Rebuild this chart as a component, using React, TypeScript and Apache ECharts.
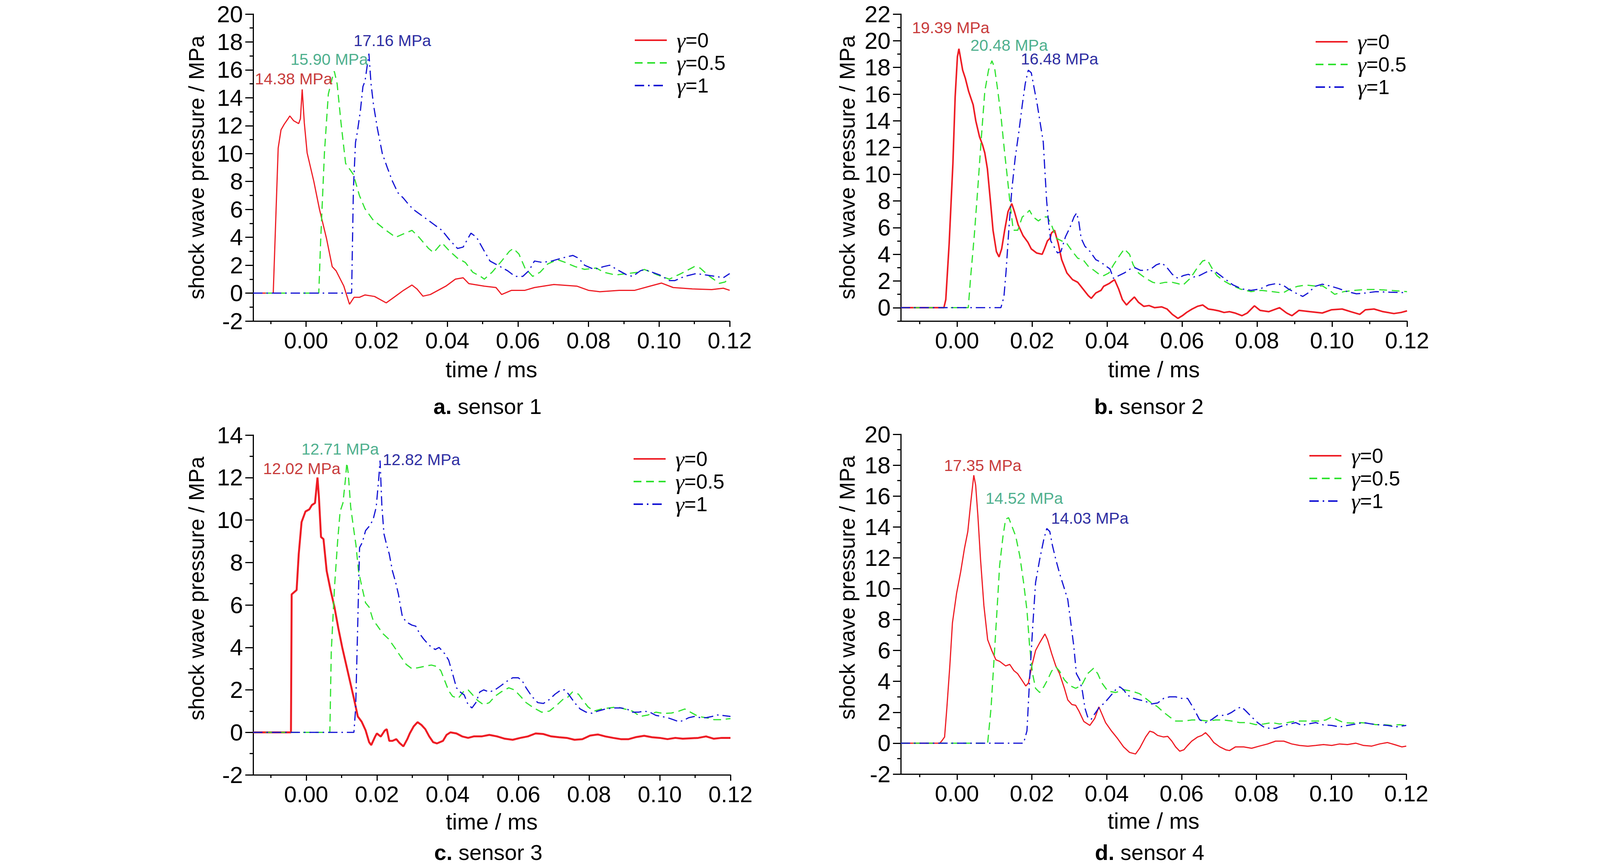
import React, { useEffect, useRef } from "react";
import * as echarts from "echarts";

// ---------- data ----------
const xLabelValues = [0, 0.02, 0.04, 0.06, 0.08, 0.1, 0.12];
const xMinorValues = [-0.01, 0.01, 0.03, 0.05, 0.07, 0.09, 0.11];
const xRange = [-0.015, 0.12];
const yRanges = [
  [-2, 20],
  [-1, 22],
  [-2, 14],
  [-2, 20],
];
const gammaNames = ["γ=0", "γ=0.5", "γ=1"];
const panelLetters = ["a.", "b.", "c.", "d."];
const panelNames = ["sensor 1", "sensor 2", "sensor 3", "sensor 4"];
const peakLabels = [
  [14.38, 15.9, 17.16],
  [19.39, 20.48, 16.48],
  [12.02, 12.71, 12.82],
  [17.35, 14.52, 14.03],
];

const s1g0 = [[-0.015,0],[-0.0093,0],[-0.0079,10.4],[-0.0071,11.7],[-0.0062,12.1],[-0.0051,12.5],[-0.0046,12.7],[-0.0035,12.35],[-0.0021,12.15],[-0.0016,12.5],[-0.0011,14.6],[-0.0005,12.2],[0.0003,10.05],[0.0022,8.0],[0.0038,6.0],[0.0058,3.9],[0.0074,1.9],[0.0085,1.6],[0.0107,0.5],[0.0123,-0.8],[0.0136,-0.3],[0.0151,-0.3],[0.0167,-0.13],[0.0194,-0.24],[0.0227,-0.7],[0.0249,-0.3],[0.0276,0.2],[0.03,0.58],[0.0314,0.3],[0.0331,-0.22],[0.0352,-0.1],[0.0374,0.2],[0.0396,0.5],[0.0423,1.0],[0.0445,1.1],[0.0461,0.68],[0.0505,0.5],[0.0538,0.4],[0.0554,-0.1],[0.0582,0.2],[0.062,0.2],[0.0647,0.4],[0.0702,0.62],[0.0767,0.5],[0.08,0.2],[0.0832,0.1],[0.0887,0.2],[0.0931,0.2],[0.0974,0.5],[0.1007,0.72],[0.104,0.4],[0.1094,0.3],[0.1149,0.25],[0.1182,0.35],[0.12,0.2]];
const s1g05 = [[-0.015,0],[0.0036,0],[0.0041,3.55],[0.0052,10.05],[0.0063,14.26],[0.0074,15.4],[0.008,15.9],[0.0088,15.0],[0.0099,12.2],[0.0112,9.3],[0.0134,8.5],[0.0151,7.0],[0.0167,6.04],[0.0189,5.27],[0.0221,4.6],[0.0254,4.0],[0.0281,4.3],[0.03,4.5],[0.032,4.0],[0.0347,3.2],[0.0361,2.9],[0.0385,3.6],[0.0407,3.0],[0.0429,2.5],[0.0451,2.2],[0.0472,1.5],[0.0494,1.2],[0.0505,1.0],[0.0527,1.5],[0.0554,2.3],[0.0576,3.0],[0.0587,3.2],[0.0603,2.8],[0.062,1.8],[0.0642,1.2],[0.0663,1.5],[0.0685,2.1],[0.0712,2.4],[0.0734,2.2],[0.0762,1.9],[0.0789,1.7],[0.0822,1.8],[0.0843,1.5],[0.0876,1.3],[0.0909,1.4],[0.0942,1.5],[0.0958,1.7],[0.0996,1.3],[0.1029,1.0],[0.1062,1.4],[0.11,1.9],[0.1116,1.8],[0.1143,1.2],[0.1171,0.7],[0.1187,0.8],[0.12,1.1]];
const s1g1 = [[-0.015,0],[0.0129,0],[0.0134,7.4],[0.014,10.8],[0.0145,11.5],[0.0154,13.1],[0.0161,14.8],[0.0167,15.2],[0.0178,17.16],[0.0184,15.0],[0.0191,13.5],[0.0202,11.8],[0.0216,10.0],[0.023,9.0],[0.0245,8.0],[0.026,7.2],[0.0276,6.8],[0.0292,6.3],[0.0309,5.9],[0.0331,5.5],[0.0358,5.0],[0.0385,4.5],[0.0407,3.8],[0.0429,3.2],[0.0445,3.3],[0.0467,4.3],[0.0483,4.0],[0.0505,3.0],[0.0521,2.3],[0.0543,2.0],[0.0571,1.6],[0.0592,1.2],[0.0614,1.2],[0.0631,1.6],[0.0647,2.3],[0.0669,2.2],[0.0696,2.3],[0.0723,2.5],[0.0756,2.7],[0.0772,2.5],[0.0789,2.0],[0.0816,1.7],[0.0843,1.9],[0.086,2.0],[0.0887,1.6],[0.0909,1.3],[0.0925,1.2],[0.0947,1.6],[0.0958,1.7],[0.098,1.5],[0.1002,1.3],[0.1029,0.9],[0.1045,0.9],[0.1072,1.2],[0.1105,1.4],[0.1132,1.3],[0.116,1.2],[0.1182,1.1],[0.12,1.4]];

const s2g0 = [[-0.015,0],[-0.0035,0],[-0.003,0.6],[-0.0021,4.8],[-0.0011,10.8],[-0.0005,15.8],[0.0001,18.8],[0.0005,19.4],[0.001,18.6],[0.0015,17.8],[0.0022,17.2],[0.0031,16.2],[0.0043,15.2],[0.005,14.0],[0.006,12.8],[0.0068,12.2],[0.0074,11.6],[0.0081,10.4],[0.0089,8.0],[0.0096,5.8],[0.0105,4.2],[0.0112,3.8],[0.0119,4.4],[0.0127,5.8],[0.0136,7.2],[0.0146,7.8],[0.0153,7.2],[0.0163,6.2],[0.0176,5.4],[0.0189,4.9],[0.0198,4.4],[0.0212,4.1],[0.0227,4.0],[0.0233,4.4],[0.0241,5.0],[0.0248,5.2],[0.0252,5.6],[0.026,5.8],[0.027,4.8],[0.0279,3.6],[0.0293,2.6],[0.0308,2.1],[0.0322,1.9],[0.0336,1.4],[0.035,0.9],[0.0358,0.7],[0.037,1.1],[0.0384,1.3],[0.0391,1.6],[0.0405,1.8],[0.042,2.1],[0.0431,1.4],[0.0441,0.6],[0.0452,0.2],[0.0462,0.5],[0.0473,0.8],[0.0484,0.4],[0.0498,0.1],[0.0512,0.16],[0.0527,0],[0.0546,0.06],[0.056,-0.1],[0.0574,-0.5],[0.0589,-0.8],[0.0601,-0.6],[0.0612,-0.36],[0.0627,-0.1],[0.0641,0.1],[0.0655,0.2],[0.067,-0.1],[0.0684,-0.16],[0.0698,-0.24],[0.0712,-0.36],[0.0727,-0.3],[0.0741,-0.4],[0.076,-0.6],[0.0774,-0.4],[0.0793,0.14],[0.0808,-0.2],[0.0831,-0.3],[0.086,0],[0.0879,-0.4],[0.0893,-0.6],[0.0912,-0.2],[0.0941,-0.3],[0.0974,-0.4],[0.0998,-0.16],[0.1027,-0.1],[0.105,-0.3],[0.1074,-0.5],[0.1089,-0.16],[0.1112,-0.1],[0.1136,-0.3],[0.1165,-0.44],[0.1184,-0.36],[0.12,-0.24]];
const s2g05 = [[-0.015,0],[0.003,0],[0.0036,2.2],[0.0046,5.4],[0.0055,8.8],[0.0065,12.8],[0.0074,16.2],[0.0084,17.8],[0.0093,18.5],[0.01,18.0],[0.0108,16.4],[0.0117,14.4],[0.0127,11.6],[0.0134,9.8],[0.0143,7.4],[0.015,5.8],[0.0162,5.8],[0.0174,6.8],[0.0184,7.0],[0.0193,7.3],[0.0203,6.8],[0.0217,6.5],[0.0231,6.8],[0.0241,6.8],[0.0252,6.2],[0.0265,5.2],[0.0279,5.0],[0.0293,4.8],[0.0308,4.2],[0.0322,3.7],[0.0336,3.6],[0.035,3.1],[0.0365,2.8],[0.0379,2.5],[0.0391,2.4],[0.0405,2.6],[0.0417,3.2],[0.0431,3.8],[0.0446,4.4],[0.046,4.0],[0.047,3.2],[0.0484,2.6],[0.0503,2.2],[0.0522,1.9],[0.0538,1.8],[0.0555,1.9],[0.0574,1.9],[0.0589,1.8],[0.0603,1.7],[0.0622,2.2],[0.0641,3.0],[0.0655,3.5],[0.0667,3.6],[0.0679,3.0],[0.0693,2.4],[0.0712,2.0],[0.0731,1.7],[0.0755,1.4],[0.0784,1.2],[0.0812,1.3],[0.0841,1.2],[0.0869,1.1],[0.0888,1.4],[0.0908,1.6],[0.0931,1.7],[0.096,1.6],[0.0974,1.64],[0.0993,1.3],[0.1007,1.0],[0.1031,1.2],[0.106,1.3],[0.1088,1.36],[0.1117,1.36],[0.1155,1.3],[0.1184,1.24],[0.12,1.2]];
const s2g1 = [[-0.015,0],[0.0117,0],[0.0125,0.8],[0.0131,2.8],[0.0138,5.8],[0.0146,8.8],[0.0155,11.2],[0.0165,13.2],[0.0174,15.2],[0.0182,16.8],[0.019,17.8],[0.0198,17.6],[0.0206,16.4],[0.0214,15.2],[0.0222,13.8],[0.023,12.4],[0.0234,10.4],[0.0239,8.0],[0.0244,6.4],[0.025,5.0],[0.0258,4.6],[0.0268,4.1],[0.0277,4.2],[0.0289,5.3],[0.0301,6.0],[0.0312,6.8],[0.0319,7.1],[0.0325,6.4],[0.0331,5.2],[0.0341,4.6],[0.0355,4.2],[0.037,3.6],[0.0384,3.4],[0.0398,3.1],[0.0408,2.9],[0.0417,2.2],[0.0431,2.4],[0.0446,2.6],[0.0462,2.9],[0.0474,3.0],[0.0489,2.8],[0.0503,2.8],[0.0517,2.9],[0.0531,3.2],[0.0546,3.36],[0.056,3.0],[0.0574,2.5],[0.0589,2.2],[0.0603,2.4],[0.0617,2.5],[0.0631,2.3],[0.0646,2.4],[0.066,2.6],[0.0674,2.8],[0.0689,2.7],[0.0703,2.4],[0.0717,2.1],[0.0736,1.7],[0.076,1.4],[0.0784,1.3],[0.0808,1.4],[0.0831,1.7],[0.085,1.8],[0.0869,1.7],[0.0884,1.4],[0.0903,1.1],[0.0922,0.84],[0.0936,1.1],[0.0955,1.6],[0.0974,1.76],[0.0993,1.64],[0.1017,1.44],[0.1041,1.2],[0.1065,1.04],[0.1089,1.1],[0.1117,1.2],[0.1155,1.16],[0.1184,1.14],[0.12,1.1]];

const s3g0 = [[-0.015,0],[-0.0043,0],[-0.0041,6.5],[-0.0027,6.7],[-0.0021,8.4],[-0.0013,9.9],[-0.0002,10.4],[0.0009,10.5],[0.0016,10.7],[0.0025,10.8],[0.0032,12.0],[0.0036,11.1],[0.0042,9.2],[0.0049,9.1],[0.0058,7.6],[0.0069,6.7],[0.008,5.9],[0.0091,4.9],[0.0102,4.0],[0.0113,3.2],[0.0124,2.4],[0.0135,1.6],[0.0146,0.75],[0.0157,0.5],[0.0168,0.1],[0.0178,-0.46],[0.0184,-0.6],[0.0195,-0.2],[0.02,-0.05],[0.0211,-0.2],[0.0222,0.08],[0.0228,0.15],[0.0235,-0.4],[0.0244,-0.4],[0.0255,-0.32],[0.0264,-0.5],[0.0275,-0.66],[0.0286,-0.32],[0.0293,-0.05],[0.0304,0.28],[0.0315,0.48],[0.0326,0.35],[0.0337,0.15],[0.0348,-0.19],[0.0359,-0.46],[0.037,-0.52],[0.0387,-0.4],[0.0397,-0.12],[0.0408,0],[0.0425,-0.05],[0.0441,-0.19],[0.0458,-0.26],[0.0474,-0.19],[0.0496,-0.19],[0.0518,-0.12],[0.054,-0.19],[0.0562,-0.3],[0.0584,-0.35],[0.0606,-0.26],[0.0627,-0.19],[0.0649,-0.05],[0.0671,-0.08],[0.0693,-0.19],[0.0715,-0.23],[0.0737,-0.26],[0.0759,-0.35],[0.0781,-0.32],[0.0803,-0.15],[0.0825,-0.1],[0.0846,-0.19],[0.0868,-0.26],[0.089,-0.32],[0.0912,-0.32],[0.0934,-0.22],[0.0956,-0.16],[0.0978,-0.23],[0.1,-0.26],[0.1022,-0.32],[0.1044,-0.26],[0.1065,-0.3],[0.1087,-0.28],[0.1109,-0.26],[0.1131,-0.19],[0.1153,-0.3],[0.1175,-0.26],[0.12,-0.26]];
const s3g05 = [[-0.015,0],[0.0067,0],[0.0071,3.8],[0.008,6.8],[0.0089,9.0],[0.0096,10.4],[0.0104,10.8],[0.0111,11.9],[0.0115,12.7],[0.0119,12.2],[0.0126,10.6],[0.0135,9.5],[0.0141,8.8],[0.0148,7.6],[0.0157,6.9],[0.0168,6.1],[0.0178,5.9],[0.0189,5.3],[0.02,5.05],[0.0217,4.65],[0.0233,4.4],[0.025,4.0],[0.0266,3.6],[0.0283,3.2],[0.0299,3.0],[0.0315,3.04],[0.0332,3.1],[0.0354,3.17],[0.037,3.1],[0.0381,2.9],[0.0392,2.43],[0.0403,1.96],[0.0414,1.7],[0.043,1.6],[0.0447,1.96],[0.0458,2.0],[0.0469,1.8],[0.0485,1.5],[0.0502,1.3],[0.0518,1.4],[0.0534,1.7],[0.0551,1.9],[0.0573,2.1],[0.0589,2.0],[0.0606,1.7],[0.0622,1.4],[0.0644,1.15],[0.0666,0.95],[0.0688,1.0],[0.071,1.3],[0.0726,1.55],[0.0737,1.6],[0.0753,1.9],[0.077,1.8],[0.0781,1.55],[0.0797,1.2],[0.0814,1.0],[0.0835,1.1],[0.0857,1.15],[0.0879,1.2],[0.0901,1.1],[0.0923,1.0],[0.0945,0.75],[0.0967,0.82],[0.0989,0.95],[0.1011,0.89],[0.1033,0.91],[0.1054,1.0],[0.1071,1.1],[0.1087,0.95],[0.1109,0.75],[0.1131,0.69],[0.1153,0.6],[0.1175,0.6],[0.12,0.65]];
const s3g1 = [[-0.015,0],[0.0135,0],[0.014,1.15],[0.0146,5.2],[0.0151,8.7],[0.0159,8.95],[0.0168,9.5],[0.0178,9.7],[0.0189,10.0],[0.0198,10.6],[0.0205,11.9],[0.0209,12.8],[0.0214,10.7],[0.022,9.35],[0.0228,8.8],[0.0235,8.4],[0.0244,7.6],[0.0253,7.07],[0.0261,6.5],[0.0266,6.0],[0.0272,5.46],[0.0283,5.2],[0.0299,5.05],[0.031,5.0],[0.0321,4.65],[0.0332,4.4],[0.0348,4.1],[0.0365,3.9],[0.0376,4.0],[0.0392,3.7],[0.0403,3.4],[0.0414,2.77],[0.0425,2.1],[0.0436,1.9],[0.0447,1.76],[0.0458,1.3],[0.0469,1.15],[0.048,1.4],[0.0491,1.9],[0.0502,2.0],[0.0518,1.9],[0.0534,2.0],[0.0551,2.2],[0.0567,2.4],[0.0584,2.57],[0.06,2.57],[0.0611,2.43],[0.0622,2.1],[0.0638,1.7],[0.0655,1.4],[0.0671,1.36],[0.0688,1.55],[0.0704,1.8],[0.0721,2.0],[0.0731,2.0],[0.0742,1.8],[0.0759,1.4],[0.0775,1.1],[0.0792,0.95],[0.0808,0.9],[0.0825,1.0],[0.0846,1.1],[0.0868,1.15],[0.089,1.15],[0.0907,1.1],[0.0923,0.95],[0.094,0.95],[0.0956,1.0],[0.0972,0.95],[0.0989,0.8],[0.1005,0.75],[0.1022,0.69],[0.1038,0.6],[0.1054,0.5],[0.1065,0.55],[0.1082,0.69],[0.1098,0.75],[0.1115,0.69],[0.1131,0.69],[0.1148,0.75],[0.1164,0.82],[0.118,0.79],[0.12,0.75]];

const s4g0 = [[-0.015,0],[-0.0046,0],[-0.0041,0.13],[-0.0033,0.4],[-0.0027,2.26],[-0.0019,5.0],[-0.0012,7.8],[-0.0001,9.7],[0.001,11.1],[0.002,12.6],[0.0029,13.7],[0.0037,15.6],[0.0045,17.35],[0.005,16.7],[0.0056,14.7],[0.0063,11.9],[0.0072,8.9],[0.0082,6.7],[0.0093,6.0],[0.0104,5.4],[0.0114,5.3],[0.013,5.0],[0.0141,5.1],[0.0152,4.7],[0.0162,4.5],[0.0173,4.1],[0.0184,3.7],[0.0191,3.9],[0.02,5.0],[0.021,6.0],[0.0221,6.5],[0.0235,7.07],[0.0242,6.7],[0.0253,5.8],[0.0264,5.0],[0.0274,4.5],[0.0287,3.55],[0.0296,2.8],[0.0307,2.5],[0.0317,2.45],[0.0326,2.07],[0.0339,1.4],[0.0355,1.15],[0.0368,1.6],[0.0379,2.35],[0.0387,1.9],[0.0397,1.33],[0.0413,0.78],[0.0429,0.3],[0.0445,-0.24],[0.0461,-0.6],[0.0477,-0.7],[0.0488,-0.33],[0.0504,0.4],[0.0515,0.78],[0.0525,0.7],[0.0536,0.5],[0.0552,0.4],[0.0563,0.44],[0.0574,0.13],[0.0584,-0.24],[0.0595,-0.52],[0.0606,-0.43],[0.0616,-0.15],[0.0627,0.13],[0.0643,0.4],[0.0654,0.5],[0.0664,0.68],[0.0675,0.4],[0.0686,0.04],[0.0702,-0.24],[0.0718,-0.43],[0.0728,-0.48],[0.0744,-0.24],[0.0766,-0.24],[0.0787,-0.33],[0.0808,-0.19],[0.083,-0.05],[0.0851,0.13],[0.0873,0.13],[0.0894,-0.05],[0.0915,-0.15],[0.0937,-0.2],[0.0958,-0.15],[0.0979,-0.09],[0.1001,-0.15],[0.1022,-0.05],[0.1043,-0.09],[0.1065,0],[0.1086,-0.15],[0.1108,-0.19],[0.1129,-0.05],[0.115,0.04],[0.1171,-0.11],[0.1188,-0.24],[0.12,-0.19]];
const s4g05 = [[-0.015,0],[0.0082,0],[0.0091,2.26],[0.0098,5.0],[0.0106,8.2],[0.0114,11.5],[0.0123,13.4],[0.013,14.5],[0.0138,14.6],[0.0146,14.1],[0.0157,13.4],[0.0168,12.1],[0.0178,10.4],[0.0187,8.6],[0.0194,6.3],[0.0202,4.5],[0.021,3.55],[0.0221,3.28],[0.0232,3.65],[0.0242,4.1],[0.0253,4.67],[0.0264,4.94],[0.0274,4.67],[0.0287,4.1],[0.0301,3.74],[0.0317,3.55],[0.0333,3.74],[0.0349,4.5],[0.0365,4.85],[0.0376,4.5],[0.0387,3.9],[0.0403,3.37],[0.0424,3.28],[0.0445,3.46],[0.0467,3.37],[0.0488,3.2],[0.0504,2.9],[0.052,2.6],[0.0536,2.35],[0.0552,2.0],[0.0568,1.7],[0.0584,1.43],[0.0606,1.43],[0.0627,1.5],[0.0648,1.5],[0.067,1.43],[0.0691,1.5],[0.0712,1.5],[0.0734,1.43],[0.0755,1.33],[0.0776,1.33],[0.0798,1.2],[0.0819,1.24],[0.0841,1.33],[0.0862,1.24],[0.0883,1.33],[0.0905,1.43],[0.0926,1.43],[0.0947,1.43],[0.0969,1.43],[0.0985,1.5],[0.1001,1.7],[0.1017,1.5],[0.1033,1.33],[0.1054,1.3],[0.1075,1.33],[0.1097,1.3],[0.1118,1.2],[0.114,1.2],[0.1161,1.15],[0.1182,1.2],[0.12,1.15]];
const s4g1 = [[-0.015,0],[0.0178,0],[0.0187,0.8],[0.0194,4.1],[0.0202,7.4],[0.021,10.4],[0.0221,11.9],[0.0232,13.2],[0.024,13.9],[0.0248,13.7],[0.0255,12.8],[0.0264,11.9],[0.0274,11.0],[0.0287,10.0],[0.0296,9.3],[0.0304,7.8],[0.0312,6.3],[0.0319,4.5],[0.0328,4.1],[0.0335,3.37],[0.0342,2.26],[0.0349,1.7],[0.0358,1.52],[0.0368,1.9],[0.0381,2.35],[0.0394,2.6],[0.0408,3.0],[0.0424,3.46],[0.0435,3.65],[0.0445,3.46],[0.0456,3.1],[0.0472,2.9],[0.0488,2.8],[0.0504,2.7],[0.052,2.54],[0.0536,2.6],[0.0552,2.9],[0.0568,3.0],[0.0584,3.0],[0.06,2.9],[0.0616,2.9],[0.0632,2.26],[0.0648,1.52],[0.0664,1.33],[0.068,1.52],[0.0696,1.8],[0.0718,1.8],[0.0734,2.0],[0.075,2.26],[0.076,2.35],[0.0771,2.1],[0.0787,1.7],[0.0803,1.33],[0.0819,1.05],[0.0835,0.96],[0.0851,0.96],[0.0873,1.15],[0.0889,1.24],[0.0905,1.33],[0.0921,1.15],[0.0937,1.24],[0.0958,1.33],[0.0979,1.18],[0.1001,1.15],[0.1022,1.05],[0.1043,1.15],[0.1065,1.24],[0.1086,1.33],[0.1108,1.24],[0.1129,1.18],[0.115,1.15],[0.1171,1.05],[0.1188,1.11],[0.12,1.15]];

const panelSeries = [
  [s1g0, s1g05, s1g1],
  [s2g0, s2g05, s2g1],
  [s3g0, s3g05, s3g1],
  [s4g0, s4g05, s4g1],
];

// ---------- layout / style ----------
const GRIDS = [
  { left: 648, top: 36, width: 1220, height: 786 },
  { left: 2306, top: 36, width: 1296, height: 786 },
  { left: 648, top: 1114, width: 1222, height: 870 },
  { left: 2306, top: 1112, width: 1294, height: 870 },
];
const LEGEND_POS = [
  { left: 1623, top: 74 },
  { left: 3366, top: 78 },
  { left: 1620, top: 1146 },
  { left: 3350, top: 1138 },
];
const LABEL_OFFSETS = [
  [[-22, -27], [-13, -30], [60, -33]],
  [[-21, -54], [44, -40], [80, -29]],
  [[-40, -23], [-17, -35], [106, -2]],
  [[23, -25], [40, -50], [110, -26]],
];
const TITLE_POS = [
  [1248, 1040],
  [2941, 1040],
  [1250, 2182],
  [2943, 2182],
];
const YNAME_GAP = [118, 110, 118, 110];
const XNAME_GAP = [94, 94, 90, 90];
const YNAME_PAD = [0, 0, 84, 84];
const RED_WIDTH = [3, 4, 5, 3];

const SANS = "'Liberation Sans', Arial, Helvetica, sans-serif";
const SERIF = "'Liberation Serif', 'Times New Roman', serif";

const LINE_COLORS = ["#ee1c24", "#2fe22f", "#1414d4"];
const LINE_TYPES: any[] = ["solid", [20, 12], [24, 10, 4, 10]];
const LABEL_COLORS = ["#c83c3c", "#4fb08e", "#2e2ea2"];

function peakOf(data: number[][]) {
  let best = data[0];
  for (const p of data) if (p[1] > best[1]) best = p;
  return best;
}

function buildOption() {
  const grid: any[] = [];
  const xAxis: any[] = [];
  const yAxis: any[] = [];
  const series: any[] = [];
  const legend: any[] = [];
  const title: any[] = [];

  for (let i = 0; i < 4; i++) {
    grid.push({ ...GRIDS[i], containLabel: false });
    const [ymin, ymax] = yRanges[i];
    const yMajor: number[] = [];
    const yMinor: number[] = [];
    for (let v = Math.ceil(ymin); v <= ymax; v++) {
      if (v % 2 === 0) yMajor.push(v);
      else yMinor.push(v);
    }
    xAxis.push({
      type: "value",
      gridIndex: i,
      min: xRange[0],
      max: xRange[1],
      name: "time / ms",
      nameLocation: "middle",
      nameGap: XNAME_GAP[i],
      nameTextStyle: { fontFamily: SANS, fontSize: 58, color: "#000" },
      axisLine: { show: true, onZero: false, lineStyle: { color: "#000", width: 3 } },
      axisTick: { show: true, customValues: xLabelValues, length: 15, lineStyle: { color: "#000", width: 3 } },
      axisLabel: {
        show: true,
        customValues: xLabelValues,
        formatter: (v: number) => v.toFixed(2),
        fontFamily: SANS,
        fontSize: 58,
        color: "#000",
        margin: 20,
      },
      splitLine: { show: false },
    });
    xAxis.push({
      type: "value",
      gridIndex: i,
      min: xRange[0],
      max: xRange[1],
      position: "bottom",
      axisLine: { show: false, onZero: false },
      axisTick: { show: true, customValues: xMinorValues, length: 8, lineStyle: { color: "#000", width: 3 } },
      axisLabel: { show: false },
      splitLine: { show: false },
    });
    yAxis.push({
      type: "value",
      gridIndex: i,
      min: ymin,
      max: ymax,
      name: "shock wave pressure / MPa",
      nameLocation: "middle",
      nameGap: YNAME_GAP[i],
      nameTextStyle: {
        fontFamily: SANS,
        fontSize: 55,
        color: "#000",
        padding: [0, 0, 0, YNAME_PAD[i]],
      },
      axisLine: { show: true, onZero: false, lineStyle: { color: "#000", width: 3 } },
      axisTick: { show: true, customValues: yMajor, length: 20, lineStyle: { color: "#000", width: 3 } },
      axisLabel: {
        show: true,
        customValues: yMajor,
        fontFamily: SANS,
        fontSize: 60,
        lineHeight: 46,
        color: "#000",
        margin: 26,
      },
      splitLine: { show: false },
    });
    yAxis.push({
      type: "value",
      gridIndex: i,
      min: ymin,
      max: ymax,
      position: "left",
      axisLine: { show: false, onZero: false },
      axisTick: { show: true, customValues: yMinor, length: 9, lineStyle: { color: "#000", width: 3 } },
      axisLabel: { show: false },
      splitLine: { show: false },
    });

    for (let k = 0; k < 3; k++) {
      const data = panelSeries[i][k];
      const pk = peakOf(data);
      series.push({
        type: "line",
        name: gammaNames[k],
        xAxisIndex: 2 * i,
        yAxisIndex: 2 * i,
        data,
        showSymbol: false,
        symbol: "none",
        lineStyle: {
          color: LINE_COLORS[k],
          width: k === 0 ? RED_WIDTH[i] : 3,
          type: LINE_TYPES[k],
        },
        itemStyle: { color: LINE_COLORS[k] },
        z: 2 + k,
        markPoint: {
          symbol: "circle",
          symbolSize: 1,
          silent: true,
          itemStyle: { color: "rgba(0,0,0,0)" },
          label: {
            show: true,
            position: "inside",
            offset: LABEL_OFFSETS[i][k],
            formatter: (p: any) => `${Number(p.value).toFixed(2)} MPa`,
            color: LABEL_COLORS[k],
            fontFamily: SANS,
            fontSize: 41,
            lineHeight: 33,
          },
          data: [{ coord: [pk[0], pk[1]], value: peakLabels[i][k] }],
        },
      });
    }

    legend.push({
      show: true,
      orient: "vertical",
      left: LEGEND_POS[i].left,
      top: LEGEND_POS[i].top,
      padding: 0,
      itemGap: 0,
      itemWidth: 82,
      itemHeight: 16,
      selectedMode: false,
      itemStyle: { opacity: 0 },
      lineStyle: { width: 4 },
      data: gammaNames,
      formatter: (name: string) => `{g|γ}{t|${name.slice(1)}}`,
      textStyle: {
        color: "#000",
        padding: [0, 0, 0, 20],
        rich: {
          g: { fontFamily: SERIF, fontStyle: "italic", fontSize: 58, lineHeight: 50, color: "#000" },
          t: { fontFamily: SANS, fontSize: 52, lineHeight: 50, color: "#000" },
        },
      },
    });

    title.push({
      text: `{b|${panelLetters[i]}}{n|\u00a0${panelNames[i]}}`,
      left: TITLE_POS[i][0],
      top: TITLE_POS[i][1] - 27,
      textAlign: "center",
      padding: 0,
      textStyle: {
        rich: {
          b: { fontFamily: SANS, fontWeight: "bold", fontSize: 56, lineHeight: 54, color: "#000" },
          n: { fontFamily: SANS, fontWeight: "normal", fontSize: 56, lineHeight: 54, color: "#000" },
        },
      },
    });
  }

  return {
    animation: false,
    backgroundColor: "#ffffff",
    title,
    legend,
    grid,
    xAxis,
    yAxis,
    series,
  };
}

export default function App() {
  const ref = useRef<HTMLDivElement>(null);
  useEffect(() => {
    document.body.style.margin = "0";
    if (!ref.current) return;
    const chart = echarts.init(ref.current, undefined, { renderer: "svg" });
    chart.setOption(buildOption() as any);
    return () => chart.dispose();
  }, []);
  return <div ref={ref} style={{ width: 4134, height: 2220, background: "#fff" }} />;
}
